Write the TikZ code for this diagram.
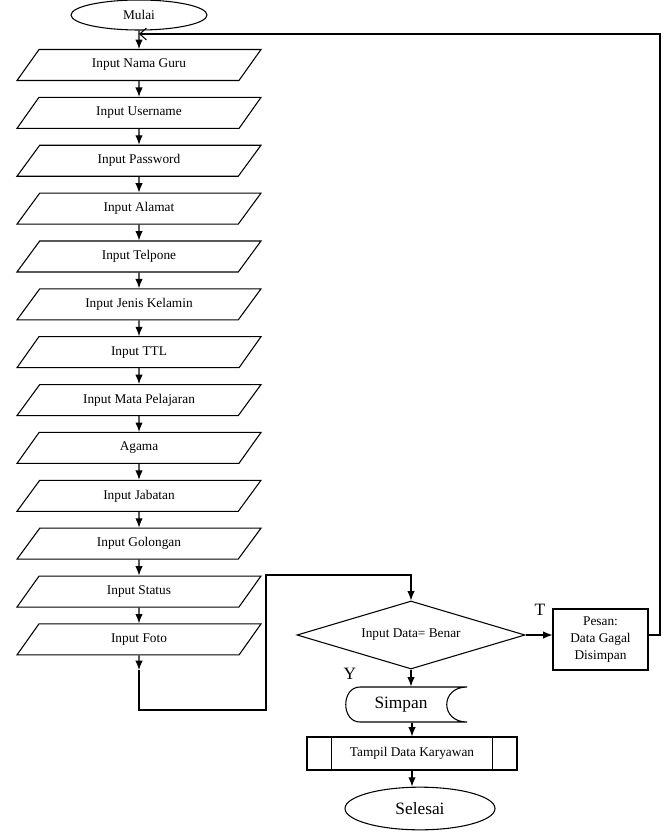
\documentclass[tikz,border=0pt]{standalone}
\usepackage{fontspec}
\setmainfont{Liberation Serif}
\usetikzlibrary{shapes.geometric,arrows.meta,positioning}
\tikzset{
  io/.style={draw, trapezium, trapezium left angle=33, trapezium right angle=147,
    trapezium stretches body, minimum width=183pt, minimum height=23.25pt, inner sep=1pt},
  terminal/.style={draw, ellipse, inner sep=0pt},
  besar/.style={font=\fontsize{13}{15}\selectfont},
  panah/.style={-{Latex[length=7pt,width=5.5pt]}},
}
\begin{document}
\begin{tikzpicture}
        [x=0.75pt, y=-0.75pt, node distance=35.9pt, line width=0.8pt,
         font=\fontsize{10}{12}\selectfont]
        \useasboundingbox (0,0) rectangle (663,838);
        \node[terminal, minimum width=102pt, minimum height=22.5pt] (M) at (139,15) {Mulai};
        \node[io] (I1) at (139,65) {Input Nama Guru};
        \node[io, below of=I1] (I2) {Input Username};
        \node[io, below of=I2] (I3) {Input Password};
        \node[io, below of=I3] (I4) {Input Alamat};
        \node[io, below of=I4] (I5) {Input Telpone};
        \node[io, below of=I5] (I6) {Input Jenis Kelamin};
        \node[io, below of=I6] (I7) {Input TTL};
        \node[io, below of=I7] (I8) {Input Mata Pelajaran};
        \node[io, below of=I8] (I9) {Agama};
        \node[io, below of=I9] (I10) {Input Jabatan};
        \node[io, below of=I10] (I11) {Input Golongan};
        \node[io, below of=I11] (I12) {Input Status};
        \node[io, below of=I12] (I13) {Input Foto};
        \node[draw, diamond, aspect=3.35, inner sep=0pt, minimum width=171pt,
              minimum height=51pt] (D) at (411,635) {Input Data= Benar};
        \node[draw, minimum width=71.25pt, minimum height=45.75pt, align=center,
              font=\fontsize{10}{13}\selectfont] (P) at (600.5,639.5) {Pesan:\\Data Gagal\\Disimpan};
        \node[besar, minimum width=90.75pt, minimum height=26.25pt] (S) at (401,704.5) {Simpan};
        \draw (467,687) -- (360,687) .. controls (341,687) and (341,722) .. (360,722)
              -- (467,722) .. controls (440,722) and (440,687) .. (467,687);
        \node[draw, minimum width=157.5pt, minimum height=24.75pt] (T) at (412,753.5) {Tampil Data Karyawan};
        \draw ([xshift=18.75pt]T.north west) -- ([xshift=18.75pt]T.south west);
        \draw ([xshift=-18.75pt]T.north east) -- ([xshift=-18.75pt]T.south east);
        \node[terminal, besar, minimum width=112.5pt, minimum height=32pt] (E) at (420,808.5) {Selesai};
        \node[besar] (lY) at (350,674) {Y};
        \node[besar] (lT) at (540,610) {T};
        % alur input
        \draw[panah] (M) -- (I1);
        \draw[panah] (I1) -- (I2);
        \draw[panah] (I2) -- (I3);
        \draw[panah] (I3) -- (I4);
        \draw[panah] (I4) -- (I5);
        \draw[panah] (I5) -- (I6);
        \draw[panah] (I6) -- (I7);
        \draw[panah] (I7) -- (I8);
        \draw[panah] (I8) -- (I9);
        \draw[panah] (I9) -- (I10);
        \draw[panah] (I10) -- (I11);
        \draw[panah] (I11) -- (I12);
        \draw[panah] (I12) -- (I13);
        \coordinate (F0) at (139,670);
        \coordinate (F1) at (139,710);
        \coordinate (F2) at (266,575);
        \draw[panah] (I13) -- (F0);
        \draw[panah] (F0) -- (F1) -| (F2) -| (D.north);
        % keputusan
        \draw[panah] (D.east) -- (D.east -| P.west);
        \draw[panah] (D.south) -- (D.south |- S.north);
        \draw[panah] (T.north |- S.south) -- (T.north);
        \draw[panah] (T.south) -- (T.south |- E.north);
        \coordinate (R) at (660,34);
        \draw[-{Straight Barb[length=5pt,width=9pt]}] (P.east |- D) -| (R) -- (M.south |- R);
    \end{tikzpicture}
\end{document}
